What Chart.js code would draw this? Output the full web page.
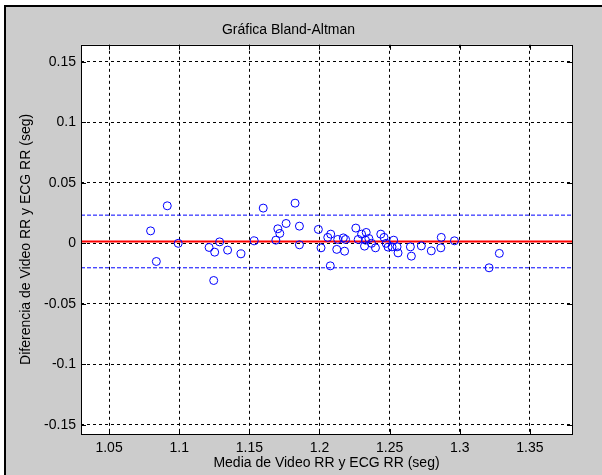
<!DOCTYPE html>
<html>
<head>
<meta charset="utf-8">
<script src="https://cdn.jsdelivr.net/npm/chart.js@4/dist/chart.umd.min.js"></script>
<style>
    html, body { margin: 0; padding: 0; background: #fff; }
    canvas { display: block; }
</style>
</head>
<body>
<canvas id="baChart" width="602" height="475"></canvas>
<script>
// Media (x) y diferencia (y) de Video RR y ECG RR
const meanRR = [1.0796, 1.0915, 1.0837, 1.0993, 1.1213, 1.1253, 1.1288, 1.1345, 1.1246, 1.1440,
    1.1535, 1.1599, 1.1689, 1.1703, 1.1717, 1.1762, 1.1826, 1.1857, 1.1857, 1.1992,
    1.2011, 1.2059, 1.2080, 1.2077, 1.2123, 1.2130, 1.2170, 1.2179, 1.2186, 1.2259,
    1.2276, 1.2300, 1.2321, 1.2328, 1.2333, 1.2352, 1.2371, 1.2399, 1.2437, 1.2460,
    1.2475, 1.2489, 1.2517, 1.2529, 1.2553, 1.2560, 1.2648, 1.2655, 1.2726, 1.2797,
    1.2865, 1.2868, 1.2962, 1.3209, 1.3282];
const diffRR = [0.0103, 0.0310, -0.0150, 0.0000, -0.0034, -0.0073, 0.0012, -0.0056, -0.0307, -0.0087,
    0.0021, 0.0291, 0.0026, 0.0120, 0.0082, 0.0164, 0.0332, 0.0142, -0.0012, 0.0115,
    -0.0037, 0.0049, 0.0076, -0.0186, -0.0050, 0.0032, 0.0045, -0.0065, 0.0032, 0.0126,
    0.0032, 0.0076, -0.0023, 0.0026, 0.0090, 0.0040, 0.0000, -0.0037, 0.0076, 0.0049,
    0.0000, -0.0031, -0.0029, 0.0026, -0.0029, -0.0079, -0.0029, -0.0106, -0.0021, -0.0062,
    -0.0037, 0.0049, 0.0021, -0.0202, -0.0083];

// media de las diferencias y limites de acuerdo
const meanDiff = 0.0015;
const upperLimit = 0.0233;
const lowerLimit = -0.0202;

const xTicks = [1.05, 1.1, 1.15, 1.2, 1.25, 1.3, 1.35];
const yTicks = [-0.15, -0.1, -0.05, 0, 0.05, 0.1, 0.15];
const xRange = [1.03, 1.38];
const yRange = [-0.1575, 0.164];

const FONT = "'Liberation Sans', Arial, sans-serif";

// fondo gris de la figura y area blanca de los ejes
const figurePlugin = {
    id: 'figure',
    beforeDraw(chart) {
        const ctx = chart.ctx;
        const a = chart.chartArea;
        ctx.save();
        ctx.fillStyle = '#ffffff';
        ctx.fillRect(0, 0, chart.width, chart.height);
        ctx.fillStyle = '#000000';
        ctx.fillRect(4, 5, chart.width - 4, chart.height - 5);
        ctx.fillStyle = '#cccccc';
        ctx.fillRect(6, 7, chart.width - 6, chart.height - 7);
        ctx.fillStyle = '#ffffff';
        ctx.fillRect(a.left, a.top, a.right - a.left, a.bottom - a.top);
        ctx.restore();
    },
    afterDraw(chart) {
        // caja y marcas hacia dentro, estilo MATLAB
        const ctx = chart.ctx;
        const a = chart.chartArea;
        const xs = chart.scales.x, ys = chart.scales.y;
        ctx.save();
        ctx.strokeStyle = '#000000';
        ctx.lineWidth = 1;
        ctx.beginPath();
        xTicks.forEach(v => {
            const px = Math.round(xs.getPixelForValue(v)) + 0.5;
            ctx.moveTo(px, a.bottom); ctx.lineTo(px, a.bottom - 5);
            ctx.moveTo(px, a.top); ctx.lineTo(px, a.top + 5);
        });
        yTicks.forEach(v => {
            const py = Math.round(ys.getPixelForValue(v)) + 0.5;
            ctx.moveTo(a.left, py); ctx.lineTo(a.left + 5, py);
            ctx.moveTo(a.right, py); ctx.lineTo(a.right - 5, py);
        });
        ctx.stroke();
        ctx.strokeRect(Math.round(a.left) + 0.5, Math.round(a.top) + 0.5,
            Math.round(a.right - a.left), Math.round(a.bottom - a.top));
        ctx.restore();
    }
};

const points = meanRR.map((x, i) => ({ x: x, y: diffRR[i] }));
const hLine = v => [{ x: xRange[0], y: v }, { x: xRange[1], y: v }];

new Chart(document.getElementById('baChart'), {
    type: 'scatter',
    data: {
        datasets: [
            {
                label: 'Diferencias',
                data: points,
                pointStyle: 'circle',
                pointRadius: 4,
                pointBorderWidth: 1,
                borderColor: '#0000ff',
                backgroundColor: 'rgba(0,0,0,0)'
            },
            {
                label: 'Media',
                type: 'line',
                data: hLine(meanDiff),
                borderColor: '#ff0000',
                borderWidth: 2,
                pointRadius: 0
            },
            {
                label: 'Limite superior',
                type: 'line',
                data: hLine(upperLimit),
                borderColor: '#0000ff',
                borderWidth: 1,
                borderDash: [4, 2],
                pointRadius: 0
            },
            {
                label: 'Limite inferior',
                type: 'line',
                data: hLine(lowerLimit),
                borderColor: '#0000ff',
                borderWidth: 1,
                borderDash: [4, 2],
                pointRadius: 0
            }
        ]
    },
    options: {
        responsive: false,
        animation: false,
        devicePixelRatio: 1,
        layout: { padding: { left: 5, right: 30, top: 0, bottom: 0 } },
        plugins: {
            legend: { display: false },
            tooltip: { enabled: false },
            title: {
                display: true,
                text: 'Gráfica Bland-Altman',
                color: '#000000',
                font: { family: FONT, size: 14, weight: 'normal' },
                padding: { top: 22, bottom: 6 }
            }
        },
        scales: {
            x: {
                type: 'linear',
                min: xRange[0],
                max: xRange[1],
                afterBuildTicks: scale => { scale.ticks = xTicks.map(v => ({ value: v })); },
                afterFit: scale => { scale.height = 41; },
                ticks: {
                    color: '#000000',
                    font: { family: FONT, size: 14 },
                    padding: 6,
                    maxRotation: 0,
                    callback: v => String(+v.toFixed(2))
                },
                grid: { color: '#000000', lineWidth: 1, drawTicks: false },
                border: { display: false, dash: [3, 3] },
                title: {
                    display: true,
                    text: 'Media de Video RR y ECG RR (seg)',
                    color: '#000000',
                    font: { family: FONT, size: 14 },
                    padding: { top: 0, bottom: 3 }
                }
            },
            y: {
                type: 'linear',
                min: yRange[0],
                max: yRange[1],
                afterBuildTicks: scale => { scale.ticks = yTicks.map(v => ({ value: v })); },
                afterFit: scale => { scale.width = 76; },
                ticks: {
                    color: '#000000',
                    font: { family: FONT, size: 14 },
                    padding: 5,
                    callback: v => String(+v.toFixed(2))
                },
                grid: { color: '#000000', lineWidth: 1, drawTicks: false },
                border: { display: false, dash: [3, 3] },
                title: {
                    display: true,
                    text: 'Diferencia de Video RR y ECG RR (seg)',
                    color: '#000000',
                    font: { family: FONT, size: 14 },
                    padding: { top: 13, bottom: 0 }
                }
            }
        }
    },
    plugins: [figurePlugin]
});
</script>
</body>
</html>
